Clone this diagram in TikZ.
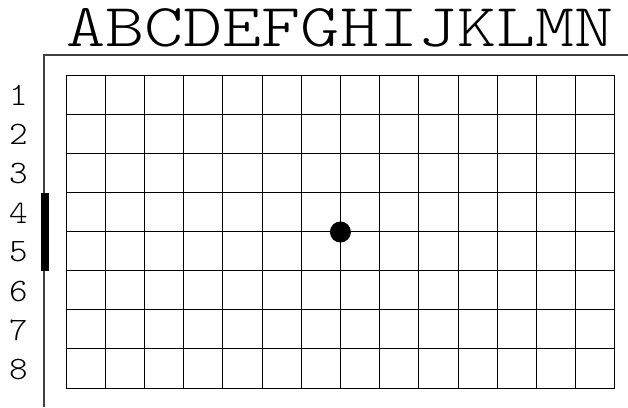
\documentclass[tikz,border=0pt]{standalone}
\usepackage{graphicx}
\usepackage{fontspec}
\newfontfamily\lmlight{lmmonolt10-regular.otf}
\begin{document}
\begin{tikzpicture}[x=1pt,y=-1pt,
  gridline/.style={line width=1pt,black},
  frameline/.style={line width=1.1pt,black!75},
  collabel/.style={font=\lmlight\fontsize{61}{70}\selectfont,inner sep=0pt,anchor=base},
  rowlabel/.style={font=\lmlight\fontsize{32.7}{36}\selectfont,inner sep=0pt,anchor=center}]
\useasboundingbox (0,0) rectangle (628,407);
% outer frame lines
\coordinate (fb) at (44,407);
\coordinate (fc) at (44,55);
\coordinate (fr) at (628,55);
\draw[frameline] (fb) -- (fc) -- (fr);
% grid
\foreach \i in {0,...,14} {
  \draw[gridline] ({66+\i*39.2},75) -- ({66+\i*39.2},388);
}
\foreach \j in {0,...,8} {
  \draw[gridline] (66,{75+\j*39.125}) -- (614.8,{75+\j*39.125});
}
% column header
\node[collabel] (cols) at (340,46.7) {\scalebox{1.22}[1]{ABCDEFGHIJKLMN}};
% row labels
\foreach \j in {1,...,8} {
  \node[rowlabel] (r\j) at (18.5,{75+(\j-0.5)*39.125+1}) {\scalebox{1.08}[1]{\j}};
}
% thick bar
\fill[black] (40.5,192.7) rectangle (48.5,270.7);
% dot
\fill[black] (340.4,232) circle (10.5);
\end{tikzpicture}
\end{document}
